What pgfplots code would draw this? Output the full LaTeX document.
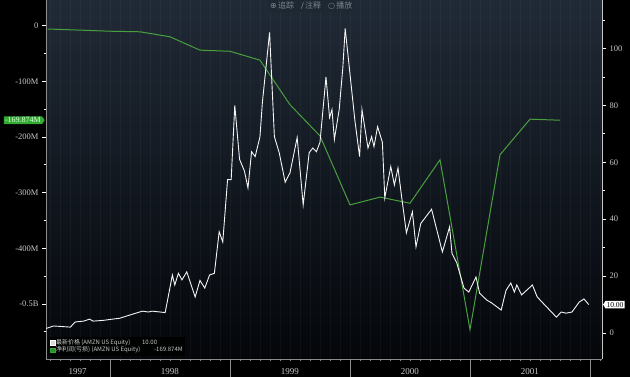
\documentclass[border=0pt]{standalone}
\usepackage{fontspec}
\setmainfont{Liberation Serif}
\newfontfamily\cjk{Noto Sans CJK SC}
\newfontfamily\symf{DejaVu Sans}
\usepackage{pgfplots}
\usepackage{pgfplotstable}
\pgfplotsset{compat=1.18}
\usetikzlibrary{shapes.symbols}
\definecolor{bgtop}{RGB}{32,42,54}
\definecolor{bgbot}{RGB}{4,6,10}
\definecolor{niGreen}{RGB}{72,160,62}
\definecolor{lbl}{RGB}{200,200,200}
\definecolor{axl}{RGB}{140,140,140}
\definecolor{tagGreen}{RGB}{52,170,52}

\pgfplotstableread{
x y
1997.48 -6
1997.75 -8
1998.00 -10
1998.25 -11
1998.50 -20
1998.75 -44
1999.00 -46
1999.25 -62
1999.50 -142
1999.75 -198
2000.00 -322
2000.25 -308
2000.50 -319
2000.75 -241
2001.00 -546
2001.25 -232
2001.50 -168
2001.75 -169.874
}\netincome

\pgfplotstableread{
x y
1997.47 1.6
1997.48 1.8
1997.53 2.5
1997.60 2.3
1997.67 2.1
1997.71 3.9
1997.78 4.2
1997.83 4.9
1997.86 4.2
1997.95 4.5
1998.02 4.9
1998.08 5.2
1998.14 6.0
1998.20 6.8
1998.27 7.7
1998.32 7.4
1998.35 7.7
1998.42 7.4
1998.46 7.2
1998.52 20.4
1998.54 16.9
1998.57 21.0
1998.60 18.7
1998.64 21.5
1998.71 12.7
1998.75 18.5
1998.79 15.8
1998.83 20.4
1998.87 21.0
1998.91 35.6
1998.94 32.0
1998.98 53.9
1999.01 53.9
1999.04 80.0
1999.08 61.0
1999.12 57.0
1999.15 51.0
1999.18 63.7
1999.21 62.0
1999.25 69.0
1999.27 81.0
1999.33 105.6
1999.37 69.0
1999.41 63.4
1999.46 53.0
1999.50 56.3
1999.56 68.7
1999.61 45.0
1999.66 63.4
1999.69 65.0
1999.72 63.7
1999.75 67.0
1999.80 90.0
1999.83 75.7
1999.85 78.5
1999.87 68.0
1999.91 78.5
1999.94 93.0
1999.96 107.0
2000.00 91.0
2000.04 75.0
2000.08 62.0
2000.10 78.5
2000.15 65.0
2000.18 69.0
2000.20 65.5
2000.23 72.5
2000.27 67.0
2000.29 47.5
2000.34 58.5
2000.37 52.0
2000.40 58.0
2000.43 48.0
2000.47 35.2
2000.52 42.6
2000.55 30.3
2000.59 38.5
2000.68 43.5
2000.77 28.5
2000.83 37.3
2000.85 28.0
2000.89 24.6
2000.95 15.8
2000.99 14.4
2001.05 19.7
2001.08 14.0
2001.14 11.6
2001.18 10.6
2001.26 8.1
2001.30 15.0
2001.34 17.6
2001.37 14.4
2001.39 16.9
2001.43 13.4
2001.52 16.9
2001.56 12.7
2001.60 10.9
2001.72 5.6
2001.76 7.4
2001.80 7.0
2001.85 7.4
2001.91 10.9
2001.95 12.0
2001.99 10.0
}\price

\begin{document}
\begin{tikzpicture}
\fill[black] (-46pt,-18pt) rectangle (584pt,359pt);
\useasboundingbox (-46pt,-18pt) rectangle (584pt,359pt);
\pgfplotsset{base/.style={scale only axis, width=556pt, height=359pt,
  at={(0pt,0pt)}, anchor=south west, xmin=1997.467, xmax=2002.1,
  clip mode=individual}}
% background + x axis
\begin{axis}[base, ymin=0, ymax=1,
  axis background/.style={shade, top color=bgtop, bottom color=bgbot},
  axis x line*=bottom, axis y line=none,
  axis line style={draw=axl, line width=0.8pt, -},
  xtick={1997.73,1998.5,1999.5,2000.5,2001.5},
  xticklabels={1997,1998,1999,2000,2001},
  major tick length=0pt,
  xticklabel style={font=\fontsize{9}{10}\selectfont, text=lbl, anchor=center, yshift=-13pt},
  extra x ticks={1998,1999,2000,2001,2002},
  extra x tick labels={},
  extra x tick style={major tick length=18pt, tick align=outside},
  minor xtick={1997.5,1997.5833,...,2002.05},
  minor tick length=2.5pt,
  tick align=outside,
  tick style={draw=axl, line width=0.5pt},
  xminorgrids, minor x grid style={white, opacity=0.035},
]
\node[anchor=north, fill={rgb,255:red,30;green,40;blue,50}, text={rgb,255:red,125;green,135;blue,145}, inner sep=2pt,
  font=\cjk\fontsize{8}{9}\selectfont] at (rel axis cs:0.477,1)
  {{\symf ⊕}\,追踪\hspace{7pt}{\symf ∕}\,注释\hspace{7pt}{\symf ○}\,播放};
\end{axis}
% left axis: net income
\begin{axis}[base, ymin=-598.8, ymax=46.1,
  axis x line=none, axis y line*=left,
  axis line style={draw=axl, line width=0.8pt, -},
  ytick={-500,-400,-300,-200,-100,0},
  yticklabels={-0.5B,-400M,-300M,-200M,-100M,0},
  minor ytick={-550,-450,-350,-250,-150,-50},
  tick align=outside, major tick length=4pt, minor tick length=2.5pt,
  tick style={draw=white, line width=0.7pt},
  yticklabel style={font=\fontsize{8.5}{9}\selectfont, text=lbl},
]
\addplot[niGreen, line width=1pt] table {\netincome};
\node[signal, signal to=east, signal pointer angle=110, fill=tagGreen, text={rgb,255:red,215;green,255;blue,215},
  inner sep=1.2pt, font=\fontsize{8}{9}\selectfont, anchor=east]
  at ([xshift=-1pt]axis cs:1997.467,-169.874) {-169.874M};
\end{axis}
% right axis: price
\begin{axis}[base, ymin=-9.1, ymax=117,
  axis x line=none, axis y line*=right,
  axis line style={draw=lbl, line width=0.8pt, -},
  ytick={0,20,40,60,80,100},
  minor ytick={10,30,50,70,90,110},
  tick align=outside, major tick length=4pt, minor tick length=2.5pt,
  tick style={draw=white, line width=0.7pt},
  yticklabel style={font=\fontsize{8.5}{9}\selectfont, text=lbl, /pgf/number format/assume math mode=true},
  legend style={fill=black, fill opacity=0.85, text opacity=1, draw=none,
    font=\cjk\fontsize{6}{7}\selectfont, text=lbl,
    at={(rel axis cs:0.004,0.008)}, anchor=south west, inner sep=1.5pt,
    row sep=-1.5pt, nodes={inner sep=1pt}},
  legend cell align=left,
]
\addplot[white!92!gray, line width=0.9pt, forget plot] table {\price};
\addlegendimage{legend image code/.code={\fill[white] (0pt,-2.4pt) rectangle (4.8pt,2.4pt);}}
\addlegendentry{\makebox[86pt][l]{最新价格 (AMZN US Equity)}10.00}
\addlegendimage{legend image code/.code={\fill[tagGreen] (0pt,-2.4pt) rectangle (4.8pt,2.4pt);}}
\addlegendentry{\makebox[98pt][l]{净利润(亏损) (AMZN US Equity)}-169.874M}
\node[signal, signal to=west, signal pointer angle=120, fill=white, text=black,
  inner sep=1.2pt, font=\fontsize{7.5}{8}\selectfont, anchor=west]
  at ([xshift=1pt]axis cs:2002.1,10) {10.00};
\end{axis}
\end{tikzpicture}
\end{document}
